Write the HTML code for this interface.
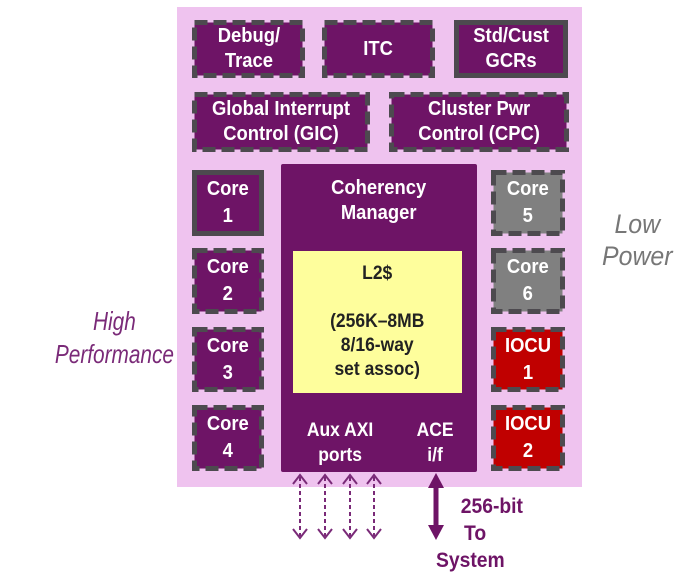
<!DOCTYPE html>
<html><head><style>
body{margin:0;width:685px;height:582px;background:#fff;position:relative;overflow:hidden;font-family:"Liberation Sans",sans-serif;}
.a{position:absolute;}
.t{position:absolute;font-weight:bold;text-align:center;color:#fff;font-size:20px;line-height:25px;display:flex;align-items:center;justify-content:center;}
.t span{display:inline-block;transform:scaleX(0.92);white-space:nowrap;}
</style></head><body>
<svg class="a" style="left:0;top:0" width="685" height="582">
<rect x="177" y="7" width="405" height="480" fill="#efc3ef"/>
<g stroke="#4d4a4f" stroke-width="5" stroke-dasharray="13,6" fill="#6e1466">
<rect x="194.5" y="22.5" width="108" height="53"/>
<rect x="324.5" y="22.5" width="108" height="53"/>
<rect x="456.5" y="22.5" width="109" height="53" stroke-dasharray="none"/>
<rect x="194.5" y="94.5" width="173" height="55"/>
<rect x="391.5" y="94.5" width="175" height="55"/>
<rect x="194.5" y="172.5" width="67" height="61" stroke-dasharray="none"/>
<rect x="194.5" y="250.5" width="67" height="61"/>
<rect x="194.5" y="329.5" width="67" height="60"/>
<rect x="194.5" y="407.5" width="67" height="61"/>
<rect x="493.5" y="172.5" width="69" height="61" fill="#808080"/>
<rect x="493.5" y="250.5" width="69" height="61" fill="#808080"/>
<rect x="493.5" y="329.5" width="69" height="60" fill="#c00000"/>
<rect x="493.5" y="407.5" width="69" height="61" fill="#c00000"/>
</g>
<rect x="281" y="164" width="196" height="308" rx="2" fill="#6e1466"/>
<rect x="293" y="251" width="169" height="142" fill="#fefe9c"/>
<g stroke="#7a2a78" stroke-width="2" fill="none">
<g stroke-dasharray="4,3"><line x1="300" y1="477" x2="300" y2="536"/><line x1="325" y1="477" x2="325" y2="536"/><line x1="350" y1="477" x2="350" y2="536"/><line x1="374" y1="477" x2="374" y2="536"/></g>
<path d="M293 484 L300 475 L307 484 M293 529 L300 538 L307 529"/>
<path d="M318 484 L325 475 L332 484 M318 529 L325 538 L332 529"/>
<path d="M343 484 L350 475 L357 484 M343 529 L350 538 L357 529"/>
<path d="M367 484 L374 475 L381 484 M367 529 L374 538 L381 529"/>
</g>
<line x1="436" y1="485" x2="436" y2="528" stroke="#6e1466" stroke-width="5"/>
<polygon points="428,488 436,473 444,488" fill="#6e1466"/>
<polygon points="428,525 436,540 444,525" fill="#6e1466"/>
</svg>
<div class="t" style="left:192px;top:20px;width:113px;height:58px;"><span>Debug/<br>Trace</span></div>
<div class="t" style="left:322px;top:20px;width:113px;height:58px;"><span>ITC</span></div>
<div class="t" style="left:454px;top:20px;width:114px;height:58px;"><span>Std/Cust<br>GCRs</span></div>
<div class="t" style="left:192px;top:92px;width:178px;height:60px;"><span>Global Interrupt<br>Control (GIC)</span></div>
<div class="t" style="left:389px;top:92px;width:180px;height:60px;"><span>Cluster Pwr<br>Control (CPC)</span></div>
<div class="t" style="left:192px;top:170px;width:72px;height:66px;line-height:27px;"><span>Core<br>1</span></div>
<div class="t" style="left:192px;top:248px;width:72px;height:66px;line-height:27px;"><span>Core<br>2</span></div>
<div class="t" style="left:192px;top:327px;width:72px;height:65px;line-height:27px;"><span>Core<br>3</span></div>
<div class="t" style="left:192px;top:405px;width:72px;height:66px;line-height:27px;"><span>Core<br>4</span></div>
<div class="t" style="left:491px;top:170px;width:74px;height:66px;line-height:27px;"><span>Core<br>5</span></div>
<div class="t" style="left:491px;top:248px;width:74px;height:66px;line-height:27px;"><span>Core<br>6</span></div>
<div class="t" style="left:491px;top:327px;width:74px;height:65px;line-height:27px;"><span>IOCU<br>1</span></div>
<div class="t" style="left:491px;top:405px;width:74px;height:66px;line-height:27px;"><span>IOCU<br>2</span></div>
<div class="t" style="left:281px;top:174px;width:196px;height:54px;"><span>Coherency<br>Manager</span></div>
<div class="t" style="left:293px;top:262px;width:169px;height:124px;color:#222;font-size:19px;line-height:24px;align-items:flex-start;"><span>L2$<br><br>(256K–8MB<br>8/16-way<br>set assoc)</span></div>
<div class="t" style="left:290px;top:418px;width:100px;height:50px;font-size:19px;"><span>Aux AXI<br>ports</span></div>
<div class="t" style="left:400px;top:418px;width:70px;height:50px;font-size:19px;"><span>ACE<br>i/f</span></div>
<div class="t" style="left:450px;top:493px;width:84px;height:27px;color:#6e1466;font-size:21px;line-height:27px;"><span>256-bit</span></div>
<div class="t" style="left:450px;top:520px;width:50px;height:27px;color:#6e1466;font-size:21px;line-height:27px;"><span>To</span></div>
<div class="t" style="left:428px;top:547px;width:84px;height:27px;color:#6e1466;font-size:21px;line-height:27px;"><span>System</span></div>
<div class="a" style="left:40px;top:305px;width:140px;text-align:center;color:#7a2a78;font-style:italic;font-size:26px;line-height:33px;"><span style="display:inline-block;transform:scaleX(0.8)">High<br>Performance</span></div>
<div class="a" style="left:590px;top:208px;width:95px;text-align:center;color:#777;font-style:italic;font-size:27px;line-height:32px;"><span style="display:inline-block;transform:scaleX(0.92)">Low<br>Power</span></div>
</body></html>
